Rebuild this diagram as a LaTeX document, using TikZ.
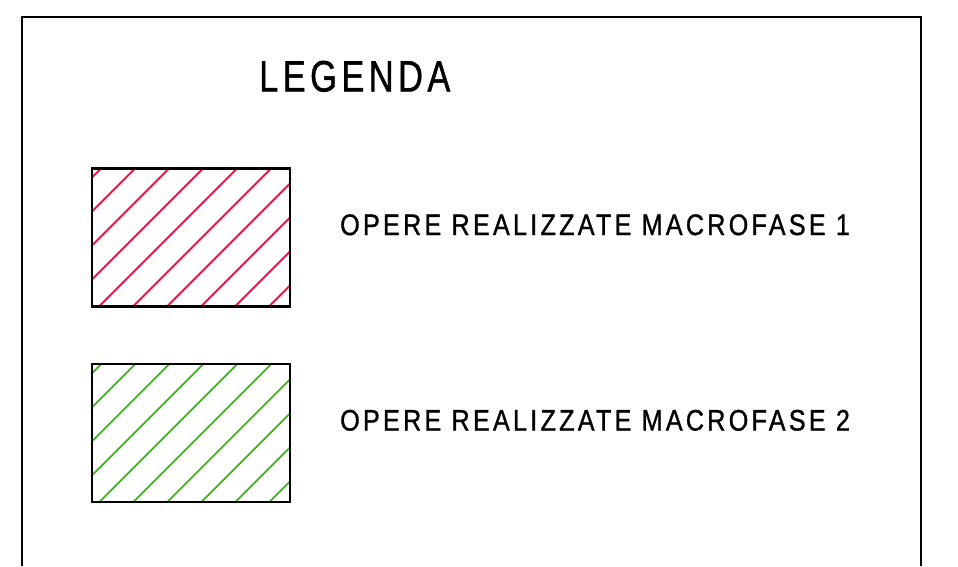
\documentclass[tikz,border=0pt]{standalone}
\usepackage{fontspec}
\setmainfont{Liberation Sans}
\newfontfamily\cadfont{Liberation Sans}[FakeStretch=0.85, LetterSpace=11, FakeBold=1]
\usetikzlibrary{calc}
\definecolor{rossofase}{RGB}{230,20,70}
\definecolor{verdefase}{RGB}{60,180,25}
\tikzstyle{titolo} = [inner sep=0pt, anchor=base west, font=\cadfont\fontsize{44}{46}\selectfont]
\tikzstyle{voce} = [inner sep=0pt, anchor=base west, font=\cadfont\fontsize{29.6}{31}\selectfont]
\tikzset{campione/.style={rectangle, draw=black, line width=2.2pt,
  minimum width=198pt, minimum height=138pt, inner sep=0pt,
  path picture={
    \foreach \k in {-6,...,6}
      \draw[#1, line width=1.8pt] ($(path picture bounding box.center)+(11pt+\k*34pt-150pt,-150pt)$) -- ++(300pt,300pt);
  }}}

\begin{document}
\begin{tikzpicture}[x=1pt,y=-1pt]
  \useasboundingbox (0,0) rectangle (958,566);
  % cornice
  \draw[line width=2pt] (22,566) -- (22,16.5) -- (921,16.5) -- (921,566);
  \node (legenda) at (259,91.5) [titolo] {\scalebox{0.92}[1]{LEGENDA}};
  % macrofase 1
  \node (camp1) at (191,237.5) [campione=rossofase] {};
  \node (voce1) at (340,235) [voce] {OPERE REALIZZATE MACROFASE 1};
  % macrofase 2
  \node (camp2) at (191,433.3) [campione=verdefase] {};
  \node (voce2) at (340,430.5) [voce] {OPERE REALIZZATE MACROFASE 2};
\end{tikzpicture}
\end{document}
